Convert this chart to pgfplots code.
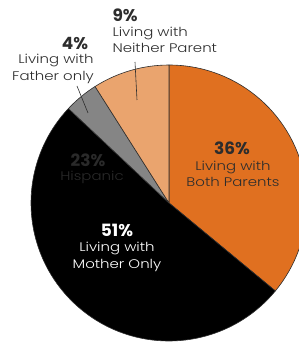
\documentclass[border=0pt]{standalone}
\usepackage{pgfplots}
\usepackage{pgfplotstable}
\pgfplotsset{compat=1.18}
\usepackage{fontspec}
\setmainfont{Poppins}
\newfontfamily\wide{Poppins Light}[FakeStretch=1.2]
\definecolor{cBoth}{RGB}{224,112,32}
\definecolor{cMother}{RGB}{0,0,0}
\definecolor{cFather}{RGB}{133,133,133}
\definecolor{cNeither}{RGB}{234,164,110}
\definecolor{edge}{RGB}{45,45,45}
\definecolor{txt}{RGB}{45,45,45}
\definecolor{faint}{RGB}{42,42,42}

\pgfplotstableread{
label share
Both 36
Mother 51
Father 4
Neither 9
}\piedata
\pgfplotstablegetelem{0}{share}\of\piedata\let\sA\pgfplotsretval
\pgfplotstablegetelem{1}{share}\of\piedata\let\sB\pgfplotsretval
\pgfplotstablegetelem{2}{share}\of\piedata\let\sC\pgfplotsretval
\pgfplotstablegetelem{3}{share}\of\piedata\let\sD\pgfplotsretval
\pgfmathsetmacro\aA{90}
\pgfmathsetmacro\aB{\aA-3.6*\sA}
\pgfmathsetmacro\aC{\aB-3.6*\sB}
\pgfmathsetmacro\aD{\aC-3.6*\sC}
\pgfmathsetmacro\aE{\aD-3.6*\sD}
\def\cx{169}
\def\cy{141}
\def\R{138}

\newcommand{\slice}[3]{%
  \filldraw[fill=#3,draw=edge,line width=0.6pt,line join=round]
    (axis cs:\cx,\cy) -- (axis cs:{\cx+\R*cos(#1)},{\cy+\R*sin(#1)})
    arc[start angle=#1,end angle=#2,radius=\R bp] -- cycle;}

\begin{document}
\begin{tikzpicture}[
  pct/.style={font=\bfseries\fontsize{17}{17}\selectfont},
  lab/.style={font=\wide\fontsize{12.5}{12.5}\selectfont},
]
\begin{axis}[
  x=1bp, y=1bp,
  xmin=0, xmax=299, ymin=0, ymax=344,
  hide axis, clip=true,
  scale only axis,
  anchor=origin, at={(0,0)},
]
\slice{\aA}{\aB}{cBoth}
\slice{\aB}{\aC}{cMother}
\slice{\aC}{\aD}{cFather}
\slice{\aD}{\aE}{cNeither}

% callout lines
\draw[edge,line width=0.6pt] (axis cs:77,258) -- (axis cs:88,231);
\draw[edge,line width=0.6pt] (axis cs:135,282) -- (axis cs:137,244);

% labels
\node[txt,pct] at (axis cs:232,196) {36\%};
\node[txt,lab] at (axis cs:233,177) {Living with};
\node[txt,lab] at (axis cs:233,162) {Both Parents};

\node[white,pct] at (axis cs:117,114) {51\%};
\node[white,lab] at (axis cs:117,96) {Living with};
\node[white,lab] at (axis cs:117,79) {Mother Only};

\node[faint,pct] at (axis cs:88,184) {23\%};
\node[faint,lab] at (axis cs:92,167) {Hispanic};

\node[txt,pct] at (axis cs:75,301) {4\%};
\node[txt,lab] at (axis cs:56,284) {Living with};
\node[txt,lab] at (axis cs:53,267) {Father only};

\node[txt,anchor=west,pct] at (axis cs:109,329) {9\%};
\node[txt,anchor=west,lab] at (axis cs:109,311) {Living with};
\node[txt,anchor=west,lab] at (axis cs:109,296) {Neither Parent};
\end{axis}
\pgfresetboundingbox
\path (0,0) rectangle (299bp,344bp);
\end{tikzpicture}
\end{document}
